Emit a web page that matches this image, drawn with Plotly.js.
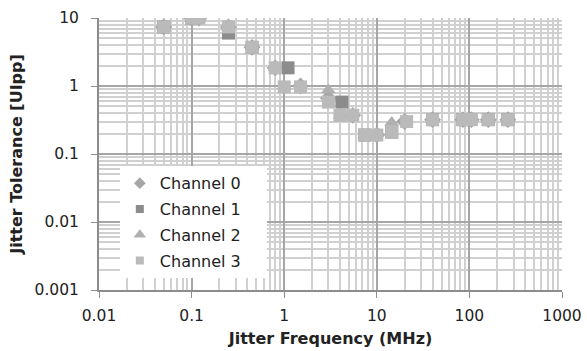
<!DOCTYPE html>
<html>
<head>
<meta charset="utf-8">
<script src="https://cdn.plot.ly/plotly-3.0.1.min.js"></script>
<style>html,body{margin:0;padding:0;background:#fff;}#chart{width:587px;height:351px;}</style>
</head>
<body>
<div id="chart"></div>
<script>
// Channel 0 (diamond)
const ch0X = [0.05, 0.1, 0.12, 0.25, 0.45, 0.8, 1.5, 3, 5.5, 10, 20, 40, 85, 105, 160, 260];
const ch0Y = [7.4, 10, 10, 7.4, 3.7, 1.85, 1.0, 0.66, 0.37, 0.19, 0.3, 0.32, 0.32, 0.32, 0.32, 0.32];
// Channel 1 (dark square)
const ch1X = [0.05, 0.1, 0.25, 0.45, 1.1, 4.2, 7.4, 14.5, 40, 85, 160, 260];
const ch1Y = [7.4, 10, 6.0, 3.7, 1.85, 0.58, 0.19, 0.21, 0.32, 0.32, 0.32, 0.32];
// Channel 2 (triangle)
const ch2X = [0.05, 0.1, 0.12, 0.25, 0.45, 0.8, 1.0, 3, 4, 7.4, 14.5, 40, 85, 160, 260];
const ch2Y = [7.4, 10, 10, 7.4, 3.7, 1.85, 1.0, 0.87, 0.37, 0.19, 0.29, 0.32, 0.32, 0.32, 0.32];
// Channel 3 (light square)
const ch3X = [0.05, 0.1, 0.12, 0.25, 0.45, 0.8, 1.0, 1.5, 3, 4, 5.5, 7.4, 10, 14.5, 21, 40, 85, 105, 160, 260];
const ch3Y = [7.4, 10, 10, 7.4, 3.7, 1.85, 0.97, 0.97, 0.58, 0.37, 0.37, 0.19, 0.19, 0.21, 0.30, 0.32, 0.32, 0.32, 0.32, 0.32];

const seriesNames = ["Channel 0", "Channel 1", "Channel 2", "Channel 3"];
const xTickVals = [0.01, 0.1, 1, 10, 100, 1000];
const xTickText = ["0.01", "0.1", "1", "10", "100", "1000"];
const yTickVals = [0.001, 0.01, 0.1, 1, 10];
const yTickText = ["0.001", "0.01", "0.1", "1", "10"];

const F = "DejaVu Sans, Verdana, sans-serif";
const symbols = ["diamond", "square", "triangle-up", "square"];
const colors = ["#a6a6a6", "#8c8c8c", "#b0b0b0", "#bababa"];
const legendSizes = [9, 8, 11, 8];
const xs = [ch0X, ch1X, ch2X, ch3X];
const ys = [ch0Y, ch1Y, ch2Y, ch3Y];

const data = [];
for (let i = 0; i < 4; i++) {
  data.push({x: xs[i], y: ys[i], name: seriesNames[i], type: "scatter", mode: "markers",
    showlegend: false,
    marker: {symbol: symbols[i], size: 13, color: colors[i], line: {width: 0}}});
}
// legend entries (small markers, no data drawn)
for (let i = 0; i < 4; i++) {
  data.push({x: [null], y: [null], name: seriesNames[i] + "&nbsp;&nbsp;&nbsp;&nbsp;", type: "scatter", mode: "markers",
    legendgroup: "g" + i, showlegend: true,
    marker: {symbol: symbols[i], size: legendSizes[i], color: colors[i], line: {width: 0}}});
}
const axisCommon = {
  type: "log", showline: true, linecolor: "#8c8c8c", linewidth: 2,
  ticks: "outside", ticklen: 6, tickcolor: "#8c8c8c", tickwidth: 1,
  showgrid: true, gridcolor: "#a6a6a6", gridwidth: 2, zeroline: false,
  tickfont: {family: F, size: 15.5, color: "#222"},
  minor: {showgrid: true, gridcolor: "#d0d0d0", gridwidth: 2, dtick: "D1", ticks: ""}
};
const layout = {
  width: 587, height: 351,
  margin: {l: 99, r: 25, t: 18, b: 61},
  paper_bgcolor: "#fff", plot_bgcolor: "#fff",
  showlegend: true,
  legend: {x: 0.045, y: 0.455, xanchor: "left", yanchor: "top",
    bgcolor: "#fff", borderwidth: 0, font: {family: F, size: 16, color: "#222"},
    itemsizing: "trace", tracegroupgap: 2, traceorder: "grouped"},
  xaxis: Object.assign({}, axisCommon, {
    range: [-2, 3], tickvals: xTickVals, ticktext: xTickText, ticklabelstandoff: 4,
    title: {text: "<b>Jitter Frequency (MHz)</b>", font: {family: F, size: 16, color: "#222"}, standoff: 9}
  }),
  yaxis: Object.assign({}, axisCommon, {
    range: [-3, 1], tickvals: yTickVals, ticktext: yTickText, ticklabelstandoff: 9,
    title: {text: "<b>Jitter Tolerance [UIpp]</b>", font: {family: F, size: 16, color: "#222"}, standoff: 8}
  })
};
Plotly.newPlot("chart", data, layout, {displayModeBar: false, staticPlot: true});
</script>
</body>
</html>
